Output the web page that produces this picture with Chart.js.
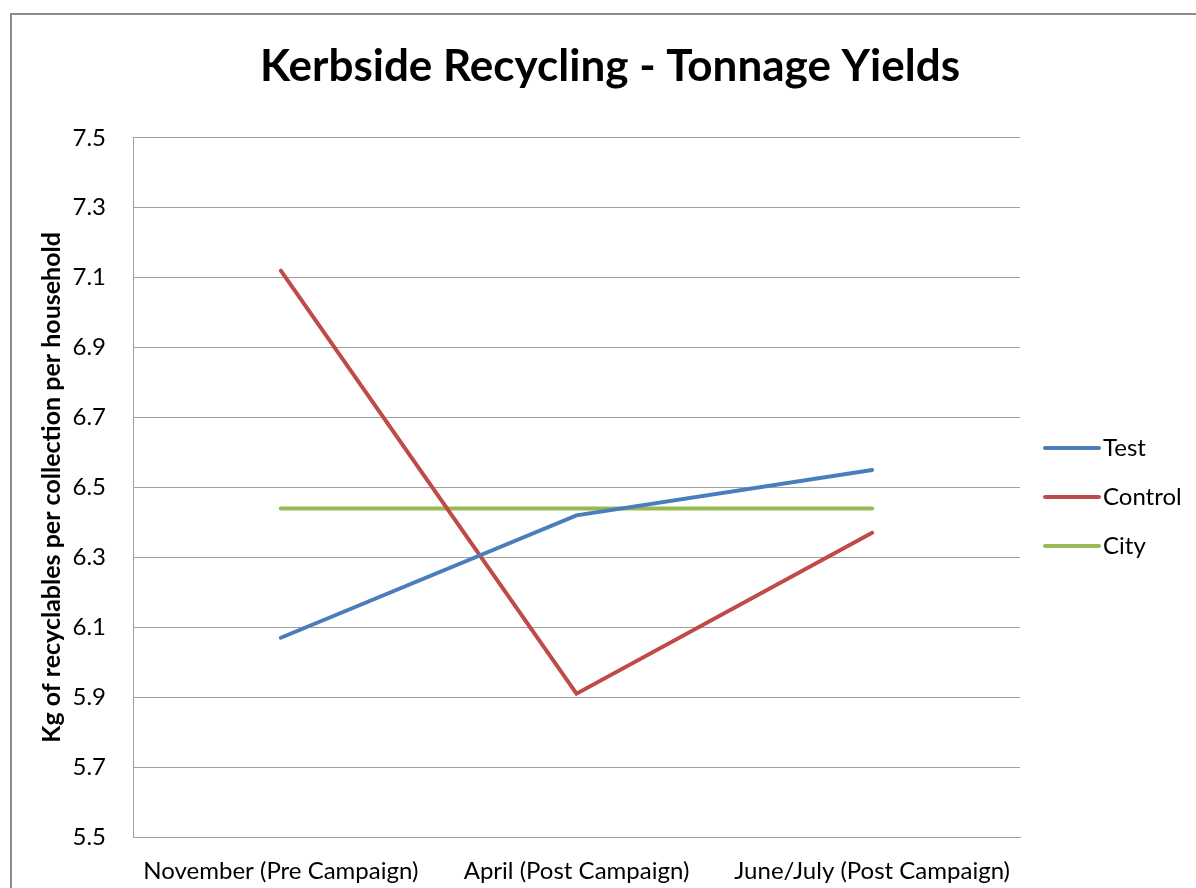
<!DOCTYPE html>
<html>
<head>
<meta charset="utf-8">
<script src="https://cdn.jsdelivr.net/npm/chart.js@4/dist/chart.umd.min.js"></script>
<style>
  html, body { margin: 0; padding: 0; background: #fff; overflow: hidden; }
  #frame { position: absolute; left: 10px; top: 13px; width: 1200px; height: 900px; border: 2px solid #8c8c8c; }
  #wrap { position: absolute; left: 0; top: 0; width: 1196px; height: 888px; }
</style>
</head>
<body>
<div id="frame"></div>
<div id="wrap"><canvas id="recyclingChart" width="1196" height="888"></canvas></div>
<script>
// Catégories et séries
const periods = ["November (Pre Campaign)", "April (Post Campaign)", "June/July (Post Campaign)"];
const testValues = [6.07, 6.42, 6.55];
const controlValues = [7.12, 5.91, 6.37];
const cityValues = [6.44, 6.44, 6.44];
const yTicks = [5.5, 5.7, 5.9, 6.1, 6.3, 6.5, 6.7, 6.9, 7.1, 7.3, 7.5];

const fontFamily = "Lato, 'Open Sans', sans-serif";

// Légende dessinée à droite
const sideLegend = {
  id: "sideLegend",
  afterDraw(chart) {
    const ctx = chart.ctx;
    ctx.save();
    ctx.font = "24px " + fontFamily;
    ctx.textBaseline = "middle";
    const ys = [448, 497, 546];
    chart.data.datasets.forEach((ds, i) => {
      ctx.strokeStyle = ds.borderColor;
      ctx.lineWidth = 4;
      ctx.lineCap = "round";
      ctx.beginPath();
      ctx.moveTo(1045, ys[i]);
      ctx.lineTo(1099, ys[i]);
      ctx.stroke();
      ctx.fillStyle = "#000";
      ctx.fillText(ds.label, 1103, ys[i]);
    });
    ctx.restore();
  },
};

const ctx = document.getElementById("recyclingChart").getContext("2d");
new Chart(ctx, {
  type: "line",
  data: {
    labels: periods,
    datasets: [
      { label: "Test", data: testValues, borderColor: "#4a7ebb" },
      { label: "Control", data: controlValues, borderColor: "#be4b48" },
      { label: "City", data: cityValues, borderColor: "#98b954" },
    ],
  },
  options: {
    responsive: false,
    animation: false,
    layout: { padding: { top: 30, left: 24, right: 0, bottom: 0 } },
    elements: {
      line: { borderWidth: 4, tension: 0, borderCapStyle: "round" },
      point: { radius: 0 },
    },
    plugins: {
      legend: { display: false },
      tooltip: { enabled: false },
      title: {
        display: true,
        text: "Kerbside Recycling - Tonnage Yields",
        color: "#000",
        font: { family: fontFamily, size: 44, weight: "bold" },
        padding: { top: 10, bottom: 45 },
      },
    },
    scales: {
      x: {
        offset: true,
        grid: { display: false, drawTicks: false },
        border: { display: true, color: "#a0a0a0", width: 1 },
        ticks: { color: "#000", font: { family: fontFamily, size: 24 }, padding: 20, maxRotation: 0 },
        afterFit: (scale) => { scale.height = 51; },
      },
      y: {
        min: 5.5,
        max: 7.5,
        afterBuildTicks: (scale) => { scale.ticks = yTicks.map((v) => ({ value: v })); },
        grid: { color: "#a0a0a0", lineWidth: 1, drawTicks: false },
        border: { display: true, color: "#a0a0a0", width: 1 },
        ticks: {
          color: "#000",
          font: { family: fontFamily, size: 24 },
          padding: 27,
          callback: (v) => v.toFixed(1),
        },
        title: {
          display: true,
          text: "Kg of recyclables per collection per household",
          color: "#000",
          font: { family: fontFamily, size: 25, weight: "bold" },
          padding: { top: 13, bottom: 0 },
        },
        afterFit: (scale) => { scale.width = 109; },
      },
      // axe vide à droite pour réserver la place de la légende
      legendSpace: {
        position: "right",
        display: true,
        grid: { display: false, drawTicks: false },
        border: { display: false },
        ticks: { display: false },
        afterFit: (scale) => { scale.width = 176; },
      },
    },
  },
  plugins: [sideLegend],
});
</script>
</body>
</html>
